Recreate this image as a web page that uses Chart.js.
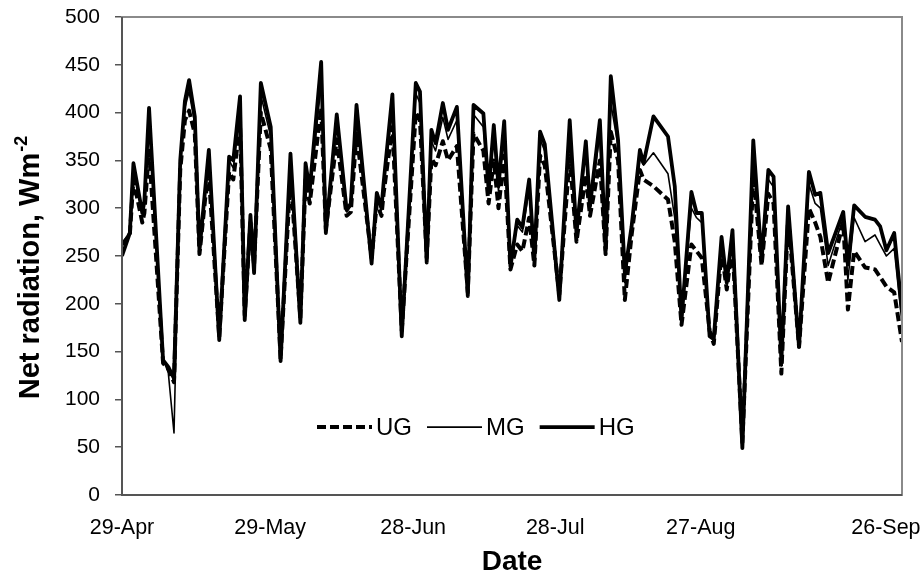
<!DOCTYPE html>
<html><head><meta charset="utf-8">
<script src="https://cdn.jsdelivr.net/npm/chart.js@4/dist/chart.umd.min.js"></script>
<style>html,body{margin:0;padding:0;background:#fff}#wrap{width:922px;height:579px;position:relative}</style>
</head><body><div id="wrap"><canvas id="c" width="922" height="579"></canvas></div>
<script>
// Horizontal position of each vertex along the date axis (0 = 29-Apr edge, 150 = right edge)
const pointPositions = [0,1.5,2.2,3.9,4.3,5.2,7.9,8.9,10,11.2,12.1,12.9,14,14.9,16,16.7,18.7,20.6,21.4,22.7,23.6,24.7,25.4,26.7,28.6,30.5,32.4,34.3,35.3,36.1,38.3,39.2,41.3,43.2,44,45.1,48,49,49.9,50.3,52,53.8,56.5,57.3,58.6,59.5,60.3,61.7,62.7,64.4,66.5,67.6,69.5,70.5,71.5,72.4,73.5,74.7,76,77,78.3,79.3,80.4,81.3,84.1,86.1,87.4,89.2,90,91.9,93,94,95.4,96.7,98,99.6,100.3,102.2,105,106.3,107.6,109.5,110.5,111.5,113,113.8,115.3,116.3,117.4,119.3,121.4,123,124.3,125.3,126.8,128.1,130.2,132.1,133.3,134.3,135.8,138.7,139.6,140.8,142.9,144.8,145.8,147,148.5,150];
const hgValues = [250,274,347,295,307,405,141,134,122,350,412,434,396,256,320,361,162,354,350,417,183,293,232,431,385,140,357,180,347,319,453,274,398,298,305,408,242,316,300,326,419,166,431,422,243,382,368,410,382,406,208,408,399,319,387,323,391,239,288,280,330,246,380,367,204,392,274,370,302,392,256,438,371,232,281,361,347,396,375,323,183,317,295,295,166,163,270,222,277,49,371,246,340,333,140,302,155,338,314,316,253,296,241,303,291,288,281,256,274,192];
const mgValues = [262,276,340,298,305,395,142,128,65,345,405,422,388,258,318,348,165,350,342,400,186,290,236,418,375,145,350,184,340,315,430,276,390,296,302,396,245,312,298,322,405,170,420,410,245,370,360,395,372,392,210,398,385,315,375,318,378,240,282,275,320,248,372,360,205,378,272,358,300,378,258,410,365,222,278,352,345,358,336,290,188,300,290,285,170,168,262,225,270,52,350,248,330,322,135,298,158,325,305,300,240,290,225,290,265,272,262,250,258,180];
const ugValues = [262,272,330,285,295,360,138,132,118,340,392,402,378,252,310,335,165,338,330,388,188,285,240,400,362,142,335,185,330,305,405,278,372,292,296,378,248,305,292,315,385,172,400,392,248,352,345,370,350,365,212,378,360,305,350,300,355,236,262,255,290,240,355,345,210,355,265,335,292,350,252,380,350,204,272,340,330,323,309,265,178,262,255,248,172,158,255,215,262,55,335,240,315,305,127,290,155,300,285,270,222,285,194,255,238,236,228,218,212,160];
const tickLabels = ['29-Apr','29-May','28-Jun','28-Jul','27-Aug','26-Sep'];
const tickPositions = [0, 28.5, 56, 83.3, 111.3, 146.9];
const seriesNames = ['UG','MG','HG'];
const yTitleMain = 'Net radiation, Wm';
const yTitleSup = '-2';

const pts = vals => vals.map((v,i)=>({x:pointPositions[i], y:v}));
const FONT = "'Liberation Sans', Arial, sans-serif";

const borderPlugin = {
  id:'plotBorder',
  afterDraw(chart){
    const {ctx, chartArea:a} = chart;
    ctx.save();
    ctx.strokeStyle = '#8a8a8a';
    ctx.lineWidth = 2;
    ctx.strokeRect(a.left, a.top, a.right-a.left, a.bottom-a.top);
    ctx.strokeStyle = '#555';
    ctx.beginPath();
    ctx.moveTo(a.left, a.top); ctx.lineTo(a.left, a.bottom); ctx.lineTo(a.right, a.bottom);
    ctx.stroke();
    ctx.restore();
  }
};

const yTitlePlugin = {
  id:'yTitle',
  afterDraw(chart){
    const {ctx} = chart;
    ctx.save();
    ctx.translate(31, 268);
    ctx.rotate(-Math.PI/2);
    ctx.fillStyle = '#000';
    ctx.textBaseline = 'middle';
    ctx.textAlign = 'left';
    const mainFont = "bold 29px " + FONT, supFont = "bold 18px " + FONT;
    ctx.font = mainFont; const w1 = ctx.measureText(yTitleMain).width;
    ctx.font = supFont; const w2 = ctx.measureText(yTitleSup).width;
    const x0 = -(w1 + w2)/2;
    ctx.font = mainFont; ctx.fillText(yTitleMain, x0, 0);
    ctx.font = supFont; ctx.fillText(yTitleSup, x0 + w1 + 1, -9);
    ctx.restore();
  }
};

const legendPlugin = {
  id:'inlineLegend',
  afterDraw(chart){
    const {ctx, chartArea:a} = chart;
    const y = chart.scales.y.getPixelForValue(71);
    ctx.save();
    ctx.font = "24px " + FONT;
    ctx.textBaseline = 'middle';
    ctx.fillStyle = '#000';
    let x = a.left + 195;
    [0,1,2].forEach(i=>{
      const ds = chart.data.datasets[i];
      ctx.beginPath();
      ctx.strokeStyle = '#000';
      ctx.lineWidth = ds.borderWidth;
      ctx.setLineDash(ds.borderDash || []);
      ctx.moveTo(x, y); ctx.lineTo(x+55, y);
      ctx.stroke();
      ctx.setLineDash([]);
      x += 59;
      ctx.fillText(ds.label, x, y+1);
      x += ctx.measureText(ds.label).width + 15;
    });
    ctx.restore();
  }
};

new Chart(document.getElementById('c'), {
  type:'line',
  data:{
    datasets:[
      {label:seriesNames[0], data:pts(ugValues), borderColor:'#000', borderWidth:4, borderDash:[9,4], pointRadius:0, tension:0, fill:false, borderJoinStyle:'round'},
      {label:seriesNames[1], data:pts(mgValues), borderColor:'#000', borderWidth:1.6, pointRadius:0, tension:0, fill:false, borderJoinStyle:'round'},
      {label:seriesNames[2], data:pts(hgValues), borderColor:'#000', borderWidth:3.8, pointRadius:0, tension:0, fill:false, borderJoinStyle:'round'}
    ]
  },
  options:{
    responsive:false, animation:false, devicePixelRatio:1,
    layout:{padding:{top:17,right:20,left:0,bottom:0}},
    plugins:{legend:{display:false}, tooltip:{enabled:false}},
    scales:{
      x:{
        type:'linear', min:0, max:150,
        afterBuildTicks(s){ s.ticks = tickPositions.map(v=>({value:v})); },
        afterFit(s){ s.height = 84; s.paddingLeft = 0; s.paddingRight = 0; },
        grid:{display:false, drawTicks:false},
        border:{display:false},
        ticks:{autoSkip:false, maxRotation:0, padding:20, color:'#000', font:{family:FONT, size:21.5},
          callback:(v, i)=>tickLabels[i]},
        title:{display:true, text:'Date', color:'#000', font:{family:FONT, size:28, weight:'bold'}, padding:{top:0,bottom:0}}
      },
      y:{
        min:0, max:500,
        afterFit(s){ s.width = 122; s.paddingTop = 0; s.paddingBottom = 0; },
        grid:{drawOnChartArea:false, drawTicks:true, tickLength:7, color:'#555', lineWidth:1.5},
        border:{display:false},
        ticks:{stepSize:50, padding:15, color:'#000', font:{family:FONT, size:21}},
        title:{display:false}
      }
    }
  },
  plugins:[borderPlugin, yTitlePlugin, legendPlugin]
});
</script>
</body></html>
